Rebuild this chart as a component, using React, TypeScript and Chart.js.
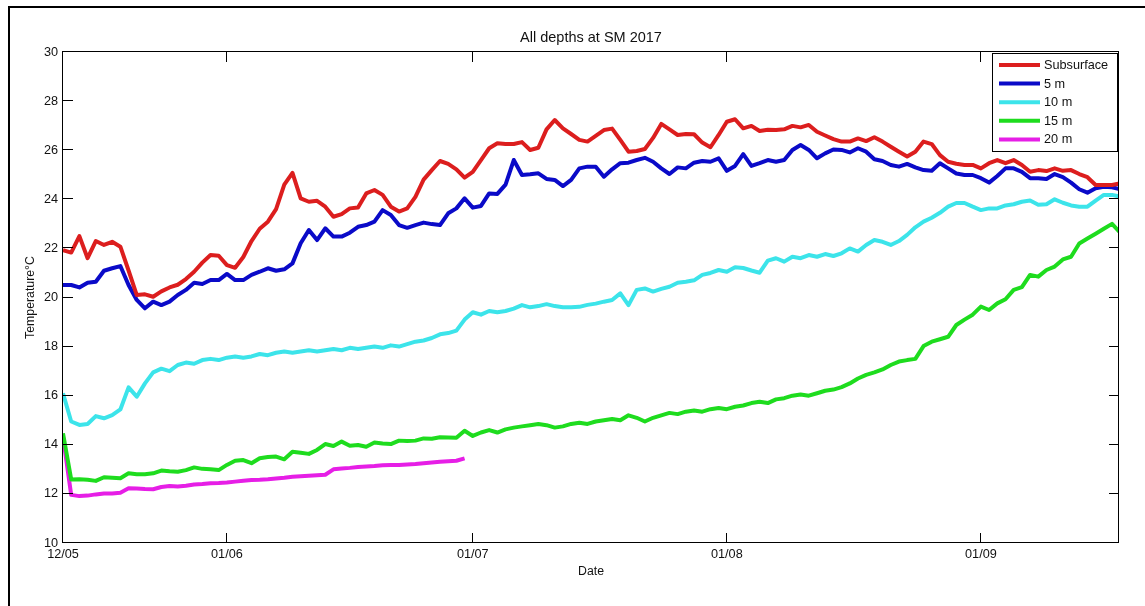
import React, { useEffect, useRef } from 'react';
import { Chart, registerables } from 'chart.js';

Chart.register(...registerables);

// ---------- data (daily values, day 0 = 12 May 2017) ----------
const seriesNames = ['Subsurface', '5 m', '10 m', '15 m', '20 m'];
const seriesColors = ['#dc1e1e', '#0a0ac8', '#3ce4ea', '#1edc1e', '#e61ee6'];

const subsurface = [
  21.93, 21.83, 22.5, 21.6, 22.3, 22.14, 22.27, 22.07, 21.1, 20.1,
  20.13, 20.03, 20.25, 20.41, 20.52, 20.75, 21.05, 21.42, 21.73, 21.7,
  21.32, 21.21, 21.65, 22.3, 22.8, 23.09, 23.6, 24.6, 25.08, 24.04,
  23.9, 23.94, 23.7, 23.29, 23.4, 23.63, 23.67, 24.24, 24.38, 24.18,
  23.7, 23.5, 23.63, 24.1, 24.8, 25.19, 25.56, 25.44, 25.22, 24.88,
  25.12, 25.6, 26.08, 26.28, 26.25, 26.25, 26.33, 26.01, 26.1, 26.85,
  27.23, 26.89, 26.66, 26.42, 26.35, 26.58, 26.82, 26.88, 26.42, 25.94,
  25.97, 26.05, 26.5, 27.07, 26.85, 26.62, 26.66, 26.65, 26.31, 26.12,
  26.62, 27.16, 27.26, 26.89, 26.99, 26.78, 26.83, 26.82, 26.85, 26.99,
  26.93, 27.03, 26.75, 26.6, 26.45, 26.35, 26.35, 26.48, 26.37, 26.53,
  26.35, 26.14, 25.94, 25.74, 25.94, 26.35, 26.25, 25.8, 25.53, 25.45,
  25.4, 25.4, 25.26, 25.47, 25.6, 25.47, 25.6, 25.4, 25.12, 25.19,
  25.15, 25.26, 25.16, 25.19, 25.03, 24.9, 24.58, 24.58, 24.58, 24.65,
];

const depth5 = [
  20.51, 20.51, 20.41, 20.6, 20.64, 21.09, 21.19, 21.28, 20.51, 19.9,
  19.56, 19.83, 19.69, 19.83, 20.1, 20.31, 20.6, 20.55, 20.71, 20.71,
  20.96, 20.71, 20.71, 20.92, 21.05, 21.19, 21.09, 21.15, 21.39, 22.21,
  22.75, 22.34, 22.82, 22.48, 22.48, 22.64, 22.88, 22.95, 23.09, 23.56,
  23.36, 22.95, 22.84, 22.95, 23.05, 22.99, 22.95, 23.43, 23.63, 24.04,
  23.66, 23.73, 24.24, 24.22, 24.6, 25.6, 24.99, 25.02, 25.06, 24.83,
  24.79, 24.54, 24.79, 25.26, 25.33, 25.33, 24.92, 25.22, 25.47, 25.49,
  25.6, 25.69, 25.53, 25.26, 25.03, 25.3, 25.26, 25.49, 25.56, 25.53,
  25.67, 25.16, 25.36, 25.84, 25.36, 25.47, 25.6, 25.53, 25.6, 26.01,
  26.21, 26.01, 25.67, 25.87, 26.03, 26.01, 25.91, 26.08, 25.94, 25.63,
  25.56, 25.4, 25.33, 25.44, 25.3, 25.19, 25.16, 25.47, 25.26, 25.05,
  24.99, 24.99, 24.86, 24.68, 24.95, 25.26, 25.26, 25.12, 24.86, 24.86,
  24.83, 25.03, 24.9, 24.68, 24.41, 24.27, 24.45, 24.51, 24.49, 24.41,
];

const depth10 = [
  16.1, 14.95, 14.81, 14.85, 15.17, 15.08, 15.21, 15.44, 16.34, 15.96,
  16.5, 16.95, 17.1, 17.0, 17.25, 17.35, 17.3, 17.45, 17.5, 17.45,
  17.55, 17.6, 17.55, 17.6, 17.7, 17.65, 17.75, 17.8, 17.75, 17.8,
  17.85, 17.8, 17.85, 17.9, 17.85, 17.95, 17.9, 17.95, 18.0, 17.95,
  18.05, 18.0, 18.1, 18.2, 18.25, 18.35, 18.5, 18.55, 18.65, 19.1,
  19.4, 19.3, 19.45, 19.4, 19.45, 19.55, 19.69, 19.6, 19.65, 19.73,
  19.65, 19.6, 19.6, 19.62, 19.7, 19.75, 19.83, 19.9, 20.17, 19.69,
  20.31, 20.37, 20.24, 20.35, 20.44, 20.6, 20.64, 20.7, 20.92, 21.0,
  21.12, 21.05, 21.23, 21.2, 21.1, 21.01, 21.5, 21.6, 21.46, 21.66,
  21.6, 21.73, 21.66, 21.77, 21.69, 21.8, 22.0, 21.87, 22.14, 22.34,
  22.27, 22.14, 22.3, 22.55, 22.86, 23.09, 23.25, 23.45, 23.7, 23.85,
  23.85, 23.7, 23.56, 23.63, 23.63, 23.75, 23.8, 23.9, 23.95, 23.78,
  23.8, 24.0, 23.86, 23.75, 23.7, 23.7, 23.95, 24.18, 24.18, 24.11,
];

const depth15 = [
  14.47, 12.59, 12.6, 12.58, 12.53, 12.68, 12.66, 12.64, 12.84, 12.8,
  12.8, 12.84, 12.95, 12.92, 12.9, 12.97, 13.08, 13.02, 13.0, 12.97,
  13.18, 13.35, 13.38, 13.25, 13.45, 13.5, 13.52, 13.41, 13.72, 13.68,
  13.63, 13.79, 14.03, 13.95, 14.13, 13.96, 13.99, 13.92, 14.09, 14.05,
  14.03, 14.17, 14.15, 14.17, 14.26, 14.25, 14.31, 14.3, 14.29, 14.57,
  14.36, 14.5, 14.6, 14.5, 14.63, 14.7, 14.75, 14.8, 14.85, 14.8,
  14.7, 14.75, 14.85, 14.9, 14.85, 14.95, 15.0, 15.05, 15.0, 15.2,
  15.1, 14.95, 15.1, 15.2, 15.3, 15.25, 15.35, 15.4, 15.35, 15.45,
  15.5, 15.45, 15.55, 15.6, 15.7, 15.75, 15.7, 15.85, 15.9, 16.0,
  16.05, 16.0, 16.1, 16.2, 16.25, 16.35, 16.5, 16.7, 16.85, 16.95,
  17.07, 17.25, 17.39, 17.45, 17.5, 18.02, 18.2, 18.3, 18.4, 18.88,
  19.1, 19.3, 19.63, 19.49, 19.76, 19.93, 20.31, 20.42, 20.92, 20.85,
  21.12, 21.26, 21.55, 21.66, 22.2, 22.4, 22.6, 22.8, 23.0, 22.64,
];

const depth20 = [
  14.33, 11.96, 11.91, 11.93, 11.98, 12.02, 12.02, 12.05, 12.23, 12.22,
  12.2, 12.19, 12.28, 12.32, 12.3, 12.33, 12.38, 12.4, 12.43, 12.44,
  12.46, 12.5, 12.54, 12.57, 12.58, 12.6, 12.63, 12.66, 12.7, 12.72,
  12.74, 12.76, 12.78, 13.0, 13.03, 13.06, 13.1, 13.12, 13.14, 13.17,
  13.18, 13.18, 13.2, 13.22, 13.25, 13.28, 13.31, 13.33, 13.35, 13.45,
];

const tickDays = [0, 20, 50, 81, 112];
const tickLabels = ['12/05', '01/06', '01/07', '01/08', '01/09'];
const xMin = 0;
const xMax = 128.85;
const yMin = 10;
const yMax = 30;
const yStep = 2;
const chartTitle = 'All depths at SM 2017';
const xTitle = 'Date';
const yTitle = 'Temperature°C';

const FONT = 'Arial, "Liberation Sans", Helvetica, sans-serif';
const TEXT = '#111111';

export default function App() {
  const ref = useRef<HTMLCanvasElement>(null);

  useEffect(() => {
    if (!ref.current) return;
    const series = [subsurface, depth5, depth10, depth15, depth20];
    const datasets = series.map((vals, k) => ({
      label: seriesNames[k],
      data: vals.map((v, i) => ({ x: i, y: v })),
      borderColor: seriesColors[k],
      backgroundColor: seriesColors[k],
      borderWidth: 4,
      pointRadius: 0,
      tension: 0,
      fill: false,
      borderJoinStyle: 'round' as const,
      borderCapStyle: 'butt' as const,
    }));

    const decor = {
      id: 'decor',
      beforeDraw(chart: any) {
        const { ctx, width, height } = chart;
        ctx.save();
        ctx.fillStyle = '#ffffff';
        ctx.fillRect(0, 0, width, height);
        ctx.fillStyle = '#000000';
        ctx.fillRect(8, 6, 2, height - 6);
        ctx.fillRect(8, 6, width - 8, 2);
        ctx.restore();
      },
      afterDraw(chart: any) {
        const { ctx, chartArea: a, scales } = chart;
        const L = Math.round(a.left), R = Math.round(a.right);
        const T = Math.round(a.top), B = Math.round(a.bottom);
        ctx.save();
        ctx.strokeStyle = '#000000';
        ctx.lineWidth = 1;
        ctx.strokeRect(L - 0.5, T - 0.5, R - L, B - T);
        ctx.beginPath();
        const tl = 10;
        for (const d of tickDays) {
          const px = Math.round(scales.x.getPixelForValue(d)) - 0.5;
          ctx.moveTo(px, B); ctx.lineTo(px, B - tl);
          ctx.moveTo(px, T); ctx.lineTo(px, T + tl);
        }
        for (const t of scales.y.ticks) {
          const py = Math.round(scales.y.getPixelForValue(t.value)) - 0.5;
          ctx.moveTo(L, py); ctx.lineTo(L + tl, py);
          ctx.moveTo(R, py); ctx.lineTo(R - tl, py);
        }
        ctx.stroke();

        // title
        ctx.fillStyle = TEXT;
        ctx.font = `14.5px ${FONT}`;
        ctx.textAlign = 'center';
        ctx.textBaseline = 'middle';
        ctx.fillText(chartTitle, (a.left + a.right) / 2, 38);

        // legend
        const bw = 125, bh = 98;
        const bx = R - 127, by = T + 1;
        ctx.fillStyle = '#ffffff';
        ctx.fillRect(bx, by, bw, bh);
        ctx.strokeStyle = '#000000';
        ctx.lineWidth = 1;
        ctx.strokeRect(bx + 0.5, by + 0.5, bw, bh);
        ctx.font = `12.7px ${FONT}`;
        ctx.textAlign = 'left';
        ctx.textBaseline = 'middle';
        chart.data.datasets.forEach((ds: any, k: number) => {
          const ry = by + 12 + k * 18.6;
          ctx.strokeStyle = ds.borderColor;
          ctx.lineWidth = 4;
          ctx.beginPath();
          ctx.moveTo(bx + 7, ry);
          ctx.lineTo(bx + 48, ry);
          ctx.stroke();
          ctx.fillStyle = TEXT;
          ctx.fillText(ds.label, bx + 52, ry + 0.5);
        });
        ctx.restore();
      },
    };

    const chart = new Chart(ref.current, {
      type: 'line',
      data: { datasets },
      options: {
        animation: false,
        responsive: false,
        devicePixelRatio: 1,
        layout: { padding: { left: 0, right: 26, top: 52, bottom: 0 } },
        plugins: {
          legend: { display: false },
          title: { display: false },
          tooltip: { enabled: false },
        },
        scales: {
          x: {
            type: 'linear',
            min: xMin,
            max: xMax,
            grid: { display: false, drawTicks: false, tickLength: 0 },
            border: { display: false },
            afterBuildTicks: (s: any) => {
              s.ticks = tickDays.map((v) => ({ value: v }));
            },
            afterFit: (s: any) => {
              s.height = 63;
            },
            ticks: {
              autoSkip: false,
              maxRotation: 0,
              padding: 3.4,
              color: TEXT,
              font: { family: FONT, size: 12.7 },
              callback: (v: any) => {
                const i = tickDays.indexOf(Number(v));
                return i >= 0 ? tickLabels[i] : '';
              },
            },
            title: {
              display: true,
              text: xTitle,
              color: TEXT,
              font: { family: FONT, size: 12.3 },
              padding: { top: 0, bottom: 26.8 },
            },
          },
          y: {
            type: 'linear',
            min: yMin,
            max: yMax,
            grid: { display: false, drawTicks: false, tickLength: 0 },
            border: { display: false },
            afterFit: (s: any) => {
              s.width = 63;
            },
            ticks: {
              stepSize: yStep,
              padding: 5,
              color: TEXT,
              font: { family: FONT, size: 12.7 },
            },
            title: {
              display: true,
              text: yTitle,
              color: TEXT,
              font: { family: FONT, size: 12.3 },
              padding: { top: 23.6, bottom: 0 },
            },
          },
        },
      } as any,
      plugins: [decor],
    });
    return () => chart.destroy();
  }, []);

  return (
    <div style={{ position: 'absolute', left: 0, top: 0, width: 1145, height: 606 }}>
      <canvas ref={ref} width={1145} height={606} style={{ display: 'block' }} />
    </div>
  );
}
